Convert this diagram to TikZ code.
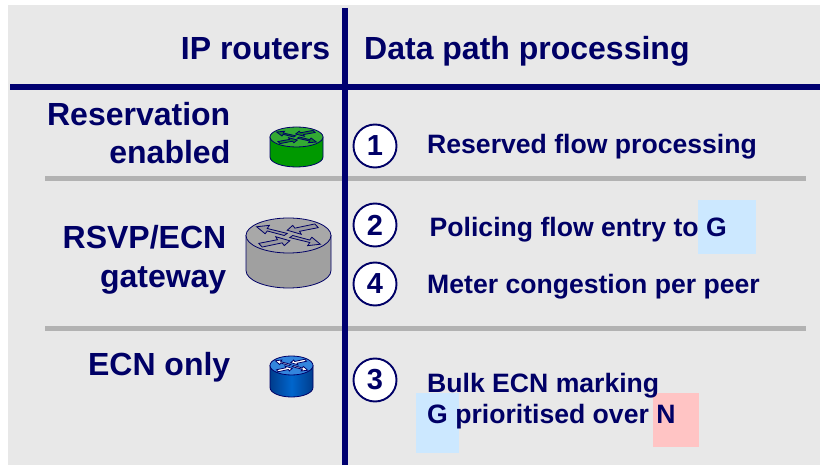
\documentclass[tikz,border=0pt]{standalone}
\usepackage{fontspec}
\setmainfont{Liberation Sans}
\definecolor{navy}{HTML}{000066}
\definecolor{linenavy}{HTML}{000070}
\definecolor{panel}{HTML}{E8E8E8}
\definecolor{rule}{HTML}{B2B2B2}
\definecolor{tintblue}{HTML}{CCE8FF}
\definecolor{tintred}{HTML}{FFC4C4}
\definecolor{grbody}{HTML}{009900}
\definecolor{grtop}{HTML}{33AA33}
\definecolor{grarrow}{HTML}{147A2A}
\definecolor{gybody}{HTML}{A0A0A0}
\definecolor{gytop}{HTML}{A8A8A8}
\definecolor{gyarrow}{HTML}{9A9AA0}
\definecolor{bledge}{HTML}{003C8C}
\definecolor{blmid}{HTML}{0066CC}
\definecolor{bltop}{HTML}{3385DD}
\tikzset{
  x=1pt,y=-1pt,
  bigtext/.style={font=\fontsize{32}{38}\selectfont\bfseries,text=navy,inner sep=0pt},
  smalltext/.style={font=\fontsize{26.6}{32}\selectfont\bfseries,text=navy,inner sep=0pt},
  numdisc/.style={circle,draw=navy,line width=1.9pt,fill=white,minimum size=43pt,inner sep=0pt,font=\fontsize{29}{32}\selectfont\bfseries,text=navy},
  navyline/.style={draw=linenavy,line width=6pt},
  greyline/.style={draw=rule,line width=5pt},
  tint/.style={draw=none,inner sep=0pt,anchor=north west},
}
% cx, cy (top-ellipse centre), rx, ry, height, body spec, top colour, arrow colour
\newcommand{\routericon}[8]{%
  \path[draw=navy,line width=0.8pt,#6]
    (#1-#3,#2) -- (#1-#3,#2+#5) arc[start angle=180,end angle=360,x radius=#3,y radius=-#4] -- (#1+#3,#2) -- cycle;
  \begin{scope}[shift={(#1,#2)},x=#3pt,y=#4pt]
    \path[draw=navy,line width=0.8pt,fill=#7] (0,0) circle[x radius=1,y radius=1];
    \path[draw=navy,line width=0.8pt,fill=#8]
      (-.62,-.66)--(-.15,-.42)--(-.1,-.58)--(.03,-.3)--(-.3,-.07)--(-.26,-.24)--(-.7,-.45)--cycle;
    \path[draw=navy,line width=0.8pt,fill=#8]
      (.7,.45)--(.26,.24)--(.3,.07)--(-.03,.3)--(.1,.58)--(.15,.42)--(.62,.66)--cycle;
    \path[draw=navy,line width=0.8pt,fill=#8]
      (.03,-.12)--(.5,-.4)--(.45,-.58)--(.75,-.5)--(.55,-.1)--(.5,-.26)--(.1,.0)--cycle;
    \path[draw=navy,line width=0.8pt,fill=#8]
      (-.03,.12)--(-.5,.4)--(-.45,.58)--(-.75,.5)--(-.55,.1)--(-.5,.26)--(-.1,0)--cycle;
  \end{scope}}
\begin{document}
\begin{tikzpicture}
\useasboundingbox (0,0) rectangle (820,465);
\fill[white] (0,0) rectangle (820,465);
\fill[panel] (8,5) rectangle (820,465);
% tinted squares
\node[tint,fill=tintblue,minimum width=58pt,minimum height=54pt] (tintG) at (698,200) {};
\node[tint,fill=tintblue,minimum width=43pt,minimum height=60pt] (tintGb) at (416,393) {};
\node[tint,fill=tintred,minimum width=46pt,minimum height=54pt] (tintN) at (653,393) {};
% rules
\coordinate (gl1) at (45,179); \coordinate (gr1) at (806,179);
\coordinate (gl2) at (45,329); \coordinate (gr2) at (806,329);
\coordinate (hl) at (10,87); \coordinate (hr) at (820,87);
\coordinate (vt) at (344.5,8); \coordinate (vb) at (344.5,465);
\draw[greyline] (gl1) -- (gr1);
\draw[greyline] (gl2) -- (gr2);
\draw[navyline] (hl) -- (hr);
\draw[navyline] (vt) -- (vb);
% headers
\node[bigtext,anchor=base east] (hdrA) at (330.5,60) {IP routers};
\node[bigtext,anchor=base west] (hdrB) at (364,60) {Data path processing};
% row labels
\node[bigtext,anchor=base east] (lab1a) at (230.5,126) {Reservation};
\node[bigtext,anchor=base east] (lab1b) at (230.5,164) {enabled};
\node[bigtext,anchor=base east] (lab2a) at (226.5,249) {RSVP/ECN};
\node[bigtext,anchor=base east] (lab2b) at (226.5,288) {gateway};
\node[bigtext,anchor=base east] (lab3) at (230.5,375) {ECN only};
% routers
\routericon{296.5}{137}{26.5}{10}{20}{fill=grbody}{grtop}{grarrow}
\routericon{288.5}{235.5}{42.5}{17.5}{35}{fill=gybody}{gytop}{gyarrow}
\routericon{291.5}{365.5}{21.5}{9.5}{22}{left color=bledge,right color=bledge,middle color=blmid}{bltop}{white}
% numbers
\node[numdisc] (n1) at (375,146) {1};
\node[numdisc] (n2) at (375,225) {2};
\node[numdisc] (n4) at (375,284) {4};
\node[numdisc] (n3) at (375,380) {3};
% descriptions
\node[smalltext,anchor=base west] (d1) at (427,154) {Reserved flow processing};
\node[smalltext,anchor=base west] (d2) at (429.5,237) {Policing flow entry to G};
\node[smalltext,anchor=base west] (d4) at (427,294) {Meter congestion per peer};
\node[smalltext,anchor=base west] (d3a) at (427,392.5) {Bulk ECN marking};
\node[smalltext,anchor=base west] (d3b) at (427,423.5) {G prioritised over N};
\end{tikzpicture}
\end{document}
